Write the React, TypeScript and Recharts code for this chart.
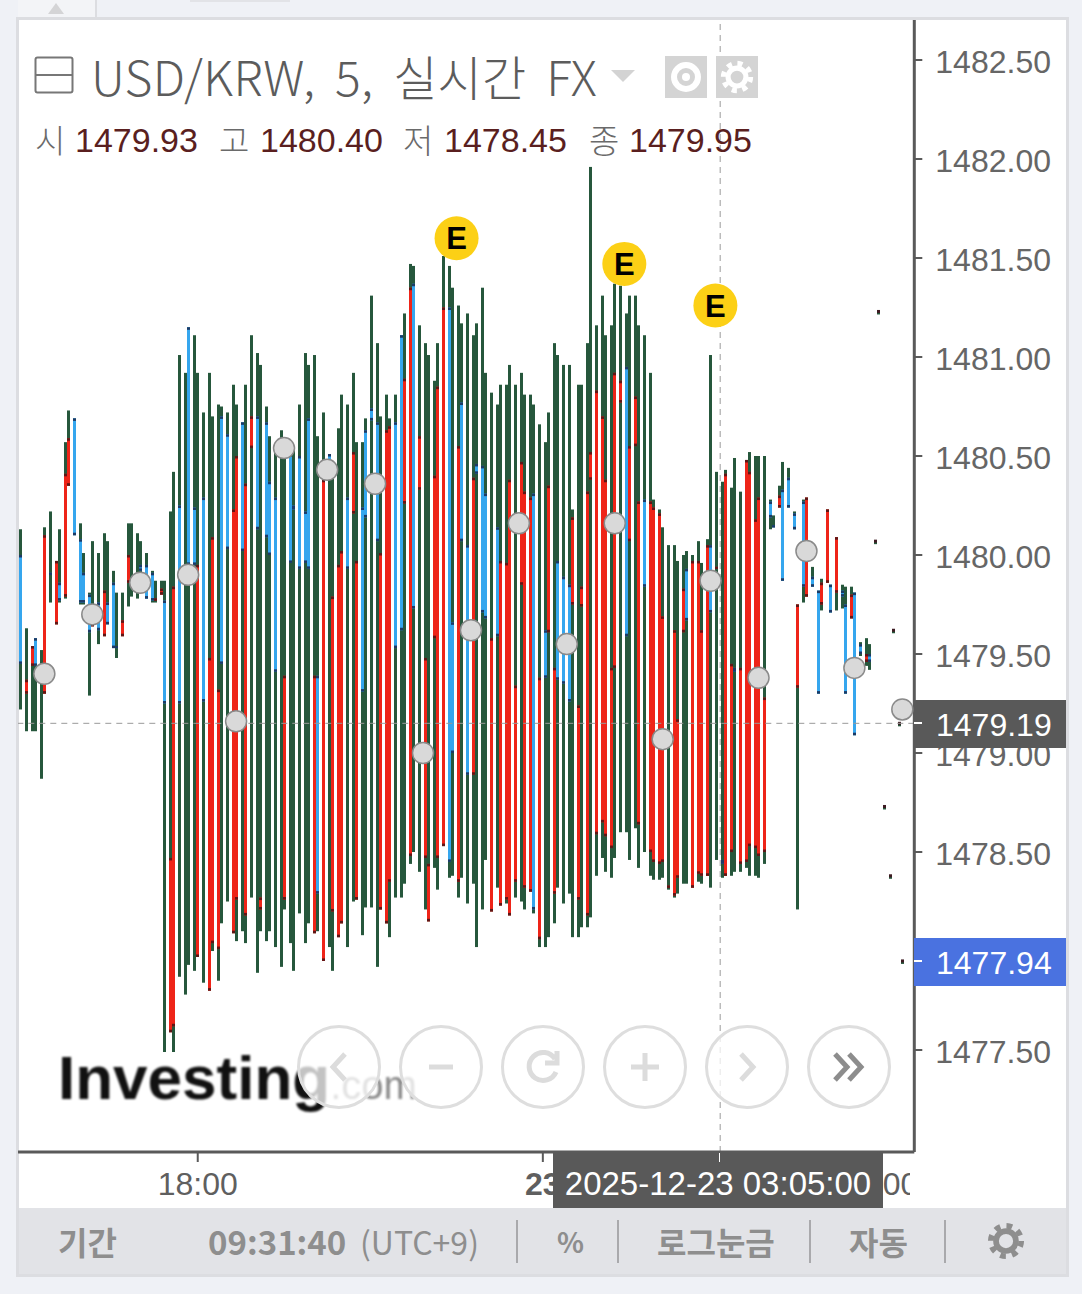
import React from "react";
import { ComposedChart, XAxis, YAxis, Bar, Line, ReferenceLine } from "recharts";

const highs = [
  1480.13,1479.63,1479.54,1479.58,1479.52,1480.14,1480.22,1479.97,1480.13,1480.57,
  1480.73,1480.69,1480.16,1480.01,1479.81,1480.07,1480.01,1480.11,1480.07,1479.92,
  1479.81,1479.81,1480.16,1480.16,1480.11,1480.07,1480.01,1479.92,1479.87,1479.87,
  1479.87,1480.22,1480.42,1481.01,1480.92,1481.15,1481.11,1480.92,1480.72,1480.92,
  1480.70,1480.76,1480.75,1480.72,1480.86,1480.76,1480.67,1480.86,1481.11,1481.02,
  1480.96,1480.75,1480.60,1480.56,1480.63,1480.56,1480.55,1480.55,1480.76,1481.02,
  1480.96,1481.01,1480.60,1480.72,1480.51,1480.39,1480.64,1480.81,1480.76,1480.92,
  1480.57,1480.57,1480.69,1481.31,1481.07,1480.70,1480.81,1480.69,1480.81,1481.11,
  1481.22,1481.47,1481.46,1481.16,1481.07,1481.01,1480.88,1481.07,1481.51,1481.46,
  1481.35,1481.26,1481.17,1481.22,1481.11,1481.17,1481.35,1480.92,1480.82,1480.76,
  1480.86,1480.86,1480.96,1480.86,1480.92,1480.81,1480.81,1480.76,1480.66,1480.57,
  1480.72,1481.07,1481.01,1480.96,1480.96,1480.23,1480.86,1480.86,1481.07,1481.96,
  1481.16,1481.31,1481.11,1481.16,1481.37,1481.36,1481.22,1481.31,1481.31,1481.16,
  1481.11,1480.92,1480.28,1480.23,1480.14,1480.05,1480.05,1479.97,1480.00,1480.02,
  1480.00,1480.07,1479.96,1480.08,1481.01,1480.42,1480.37,1480.43,1480.34,1480.49,
  1480.32,1480.48,1480.52,1480.50,1480.50,1480.50,1480.28,1480.20,1480.35,1480.47,
  1480.44,1480.22,1479.75,1480.28,1480.29,1479.94,1479.82,1479.88,1480.23,1479.85,
  1480.09,1479.85,1479.84,1479.84,1479.81,1479.56,1479.58,1479.55,
  1480.07,1481.23,1478.73,1478.38,1479.62,1479.15,1477.95,
];

const lows = [
  1479.22,1479.11,1479.11,1479.11,1478.87,1479.30,1479.76,1479.65,1479.76,1479.78,
  1480.35,1480.10,1479.75,1479.75,1479.29,1479.64,1479.55,1479.59,1479.65,1479.53,
  1479.48,1479.59,1479.74,1479.79,1479.78,1479.90,1479.78,1479.76,1479.76,1479.80,
  1477.49,1477.59,1477.49,1477.87,1477.78,1477.93,1477.90,1477.97,1477.84,1477.80,
  1478.00,1477.85,1478.14,1478.25,1478.09,1478.05,1478.10,1478.04,1478.27,1477.89,
  1478.10,1478.05,1478.10,1478.02,1477.92,1478.21,1478.04,1477.90,1478.19,1478.04,
  1478.14,1478.09,1478.10,1477.95,1478.02,1477.90,1478.07,1478.14,1478.02,1478.25,
  1478.26,1478.08,1478.22,1478.22,1477.92,1478.21,1478.14,1478.07,1478.27,1478.27,
  1478.34,1478.44,1478.50,1478.40,1478.21,1478.15,1478.42,1478.31,1478.53,1478.37,
  1478.38,1478.27,1478.37,1478.24,1478.34,1478.02,1478.21,1478.46,1478.20,1478.32,
  1478.23,1478.24,1478.18,1478.27,1478.25,1478.21,1478.30,1478.19,1478.02,1478.02,
  1478.07,1478.14,1478.32,1478.24,1478.29,1478.07,1478.07,1478.12,1478.12,1478.17,
  1478.38,1478.47,1478.40,1478.37,1478.47,1478.60,1478.60,1478.46,1478.62,1478.42,
  1478.50,1478.38,1478.36,1478.36,1478.37,1478.31,1478.27,1478.29,1478.34,1478.34,
  1478.32,1478.35,1478.34,1478.38,1478.32,1478.46,1478.37,1478.38,1478.38,1478.40,
  1478.40,1478.42,1478.38,1478.38,1478.37,1478.44,1480.13,1480.14,1480.24,1479.87,
  1480.24,1480.13,1478.21,1479.76,1479.79,1479.84,1479.30,1479.72,1479.86,1479.71,
  1479.72,1479.73,1479.30,1479.68,1479.09,1479.49,1479.44,1479.42,
  1480.07,1481.23,1478.73,1478.38,1479.62,1479.15,1477.95,
];

const opens = [
  1480.00,1479.30,1479.44,1479.58,1479.41,1479.30,1479.91,1479.65,1479.86,1479.79,
  1480.35,1480.69,1480.08,1479.91,1479.80,1479.64,1479.76,1479.59,1479.76,1479.86,
  1479.54,1479.59,1479.86,1479.86,1479.83,1479.95,1479.95,1479.91,1479.77,1479.80,
  1479.77,1477.59,1477.62,1480.25,1479.95,1481.15,1480.24,1477.97,1480.29,1477.80,
  1478.04,1478.01,1480.70,1480.61,1478.09,1478.26,1480.67,1478.18,1480.54,1480.70,
  1478.21,1480.67,1480.37,1480.29,1480.55,1478.26,1480.51,1480.25,1480.50,1480.22,
  1480.69,1478.09,1479.39,1477.95,1480.51,1478.20,1478.07,1478.14,1480.29,1480.21,
  1478.26,1480.24,1480.63,1480.74,1480.67,1478.21,1478.14,1478.35,1480.67,1481.11,
  1480.26,1478.48,1481.37,1480.33,1478.47,1478.15,1479.58,1478.47,1478.53,1481.25,
  1479.66,1478.35,1480.77,1480.05,1478.89,1480.46,1480.45,1480.31,1478.20,1480.14,
  1478.23,1478.26,1478.18,1478.35,1479.85,1478.32,1478.30,1480.31,1478.06,1479.62,
  1479.61,1478.29,1479.97,1479.89,1479.85,1479.75,1478.26,1479.74,1478.18,1480.38,
  1478.59,1478.65,1478.58,1478.52,1479.43,1480.77,1480.95,1480.07,1480.55,1478.64,
  1480.28,1478.50,1478.45,1478.44,1478.45,1478.32,1478.28,1478.37,1479.61,1479.93,
  1478.32,1478.39,1478.38,1478.38,1480.05,1479.93,1478.46,1478.38,1478.50,1479.43,
  1478.44,1478.45,1478.53,1478.52,1478.48,1478.50,1480.27,1480.15,1480.24,1480.33,
  1480.39,1480.21,1479.33,1480.27,1479.79,1479.89,1479.82,1479.75,1479.86,1479.85,
  1479.81,1479.82,1479.75,1479.68,1479.81,1479.55,1479.46,1479.50,
  1480.07,1481.23,1478.73,1478.38,1479.62,1479.15,1477.95,
];

const closes = [
  1479.45,1479.37,1479.54,1479.44,1479.40,1480.10,1479.90,1479.97,1479.77,1480.41,
  1480.59,1480.10,1479.76,1479.76,1479.61,1479.71,1479.62,1479.82,1479.65,1479.53,
  1479.53,1479.67,1480.00,1479.85,1479.82,1479.92,1479.78,1479.77,1479.78,1479.83,
  1479.25,1478.47,1479.84,1479.25,1479.90,1479.95,1479.95,1479.95,1479.26,1479.48,
  1480.09,1479.32,1479.45,1480.03,1480.23,1480.50,1480.02,1480.36,1480.70,1480.13,
  1478.27,1480.09,1480.00,1479.41,1480.53,1479.39,1479.96,1480.23,1479.93,1479.96,
  1479.93,1479.39,1478.29,1480.38,1480.40,1479.79,1479.95,1480.02,1479.93,1480.52,
  1479.97,1479.31,1480.19,1480.68,1480.07,1480.01,1480.63,1480.65,1479.53,1479.62,
  1480.89,1481.35,1479.73,1480.60,1479.48,1478.44,1480.40,1480.85,1481.25,1478.45,
  1479.00,1480.55,1480.07,1478.89,1480.39,1480.41,1479.71,1479.68,1479.58,1479.59,
  1479.97,1479.96,1480.38,1479.34,1480.47,1480.32,1480.29,1478.21,1479.38,1479.38,
  1480.35,1479.43,1479.37,1479.35,1479.26,1480.19,1479.24,1479.84,1480.32,1480.52,
  1480.83,1480.70,1480.38,1479.43,1480.92,1480.88,1479.59,1480.55,1480.80,1480.27,
  1479.84,1480.27,1480.24,1480.21,1479.69,1478.33,1479.62,1479.17,1479.83,1479.67,
  1479.97,1479.97,1479.62,1480.05,1479.71,1479.94,1478.44,1480.41,1479.45,1479.41,
  1479.43,1480.48,1480.42,1480.18,1480.29,1479.28,1480.19,1480.14,1480.30,1479.87,
  1480.24,1480.13,1479.75,1479.84,1480.29,1479.84,1479.30,1479.86,1480.23,1479.71,
  1480.09,1479.79,1479.30,1479.80,1479.09,1479.50,1479.50,1479.46,
  1480.07,1481.23,1478.73,1478.38,1479.62,1479.15,1477.95,
];

// gray event dots and yellow E badges, by bar slot
const eventBars = [5,15,25,35,45,55,64,74,84,94,104,114,124,134,144,154,164,174,184];
const eventPrices = [1479.40,1479.70,1479.86,1479.90,1479.16,1480.54,1480.43,1480.36,1479.00,1479.62,1480.16,1479.55,1480.16,1479.07,1479.87,1479.38,1480.02,1479.43,1479.22];
const earningBars = [91,126,145];
const earningPrices = [1481.60,1481.47,1481.26];

const priceTicks = [1482.5,1482,1481.5,1481,1480.5,1480,1479.5,1479,1478.5,1478,1477.5];
const timeTicks = [37,109,179];
const timeLabels: Record<number,string> = { 37: "18:00", 109: "23", 179: "06:00" };
const SLOTS = 187;

const table = Array.from({ length: SLOTS }, (_, i) => {
  const has = i < highs.length;
  const ev = eventBars.indexOf(i);
  const er = earningBars.indexOf(i);
  return {
    slot: i,
    wick: has ? [lows[i], highs[i]] : null,
    body: has ? [Math.min(opens[i], closes[i]), Math.max(opens[i], closes[i])] : null,
    open: has ? opens[i] : null,
    close: has ? closes[i] : null,
    event: ev >= 0 ? eventPrices[ev] : null,
    earning: er >= 0 ? earningPrices[er] : null,
  };
});

const GREEN = "#26573c";
const RED = "#ee2418";
const BLUE = "#35a6ee";
const SANS = '"Liberation Sans", Arial, sans-serif';
const KR = '"Noto Sans CJK KR", "Liberation Sans", sans-serif';

// the source canvas lands every bar on a 3px column
const snap = (x: number) => Math.ceil((x - 19.4) / 3) * 3 + 19;

const Wick = (p: any) => {
  if (!p.payload?.wick) return null;
  const h = Math.abs(p.height);
  return <rect x={snap(p.x)} y={Math.min(p.y, p.y + p.height)} width={3} height={Math.max(h, 3)} fill={GREEN} />;
};

const Body = (p: any) => {
  if (!p.payload?.body) return null;
  const top = Math.min(p.y, p.y + p.height);
  const h = Math.abs(p.height);
  const x = snap(p.x);
  const { open, close } = p.payload;
  if (open === close) return <rect x={x} y={top - 1.5} width={3} height={3} fill="#3d1b22" />;
  const up = close > open;
  const cap = up ? "#5f1616" : "#1c3a66";
  return (
    <g>
      <rect x={x} y={top} width={3} height={h} fill={up ? RED : BLUE} />
      <rect x={x} y={top} width={3} height={Math.min(2.5, h)} fill={cap} />
      <rect x={x} y={top + h - Math.min(2.5, h)} width={3} height={Math.min(2.5, h)} fill={cap} />
    </g>
  );
};

const EventDot = (p: any) => {
  if (p.payload?.event == null) return <g key={p.index} />;
  return <circle key={p.index} cx={p.cx} cy={p.cy} r={10.5} fill="#d9d9d9" stroke="#8a8a8a" strokeWidth={1.5} />;
};

const EarningDot = (p: any) => {
  if (p.payload?.earning == null) return <g key={p.index} />;
  return (
    <g key={p.index}>
      <circle cx={p.cx} cy={p.cy} r={22} fill="#fcd016" />
      <text x={p.cx} y={p.cy + 11} textAnchor="middle" fontFamily={SANS} fontWeight="bold" fontSize={31} fill="#000">E</text>
    </g>
  );
};

const TimeTick = (p: any) => {
  const label = timeLabels[p.payload.value];
  return (
    <text x={p.x} y={p.y + 33} textAnchor="middle" fontFamily={SANS} fontSize={32}
      fontWeight={label === "23" ? "bold" : "normal"} fill="#5f5f5f">{label}</text>
  );
};

const Gear = ({ size, color }: { size: number; color: string }) => (
  <svg width={size} height={size} viewBox="0 0 40 40" style={{ display: "block" }}>
    <circle cx="20" cy="20" r="16" fill="none" stroke={color} strokeWidth="6" strokeDasharray="6 6.57" />
    <circle cx="20" cy="20" r="10.5" fill="none" stroke={color} strokeWidth="6" />
  </svg>
);

const abs = (left: number, top: number, extra: React.CSSProperties = {}): React.CSSProperties => ({
  position: "absolute", left, top, ...extra,
});

const ohlc = [
  { k: "시", kx: 35, v: "1479.93", vx: 75 },
  { k: "고", kx: 219, v: "1480.40", vx: 260 },
  { k: "저", kx: 403, v: "1478.45", vx: 444 },
  { k: "종", kx: 589, v: "1479.95", vx: 629 },
];

const toolbar = [
  { t: "기간", x: 58, size: 32 },
  { t: "09:31:40", x: 208, size: 33 },
  { t: "(UTC+9)", x: 360, size: 32, light: true },
  { t: "%", x: 557, size: 28 },
  { t: "로그눈금", x: 657, size: 32 },
  { t: "자동", x: 849, size: 32 },
];
const toolbarSeps = [516, 617, 809, 944];

const navX = [339, 441, 543, 645, 747, 849];

const NavGlyph = ({ i, x }: { i: number; x: number }) => {
  const c = "#dcdcdc";
  const y = 1067;
  const line = { fill: "none", stroke: c, strokeWidth: 5 } as const;
  if (i === 0) return <path d={`M${x + 6} ${y - 13}L${x - 6} ${y}L${x + 6} ${y + 13}`} {...line} />;
  if (i === 1) return <path d={`M${x - 12} ${y}H${x + 12}`} {...line} />;
  if (i === 2) return <path d={`M${x + 12} ${y - 8}A14 14 0 1 0 ${x + 13} ${y + 5}M${x + 14} ${y - 16}V${y - 4}H${x + 2}`} {...line} />;
  if (i === 3) return <path d={`M${x - 14} ${y}H${x + 14}M${x} ${y - 14}V${y + 14}`} {...line} />;
  if (i === 4) return <path d={`M${x - 6} ${y - 13}L${x + 6} ${y}L${x - 6} ${y + 13}`} {...line} />;
  return <path d={`M${x - 14} ${y - 13}L${x - 2} ${y}L${x - 14} ${y + 13}M${x} ${y - 13}L${x + 12} ${y}L${x} ${y + 13}`} fill="none" stroke="#8d8d8d" strokeWidth={5} />;
};

export default function App() {
  return (
    <div style={abs(0, 0, { width: 1082, height: 1294, background: "#eff1f6", overflow: "hidden" })}>
      {/* top strip */}
      <div style={abs(18, 0, { width: 77, height: 17, background: "#f3f4f7", borderRight: "2px solid #dcdde1" })} />
      <div style={abs(190, 0, { width: 100, height: 2, background: "#e2e3e7" })} />
      <svg style={abs(48, 3)} width="16" height="11"><path d="M8 0L16 11H0Z" fill="#d4d4d6" /></svg>

      {/* panel */}
      <div style={abs(16, 17, { width: 1053, height: 1260, background: "#dcdde1" })} />
      <div style={abs(19, 20, { width: 1047, height: 1188, background: "#fff" })} />
      <div style={abs(19, 1208, { width: 1047, height: 66, background: "#e2e3e7" })} />

      <div style={abs(0, 0)}>
        <ComposedChart width={1082} height={1294} data={table}
          margin={{ top: 20, left: 18, right: 16, bottom: 86 }}>
          <XAxis xAxisId="wick" dataKey="slot" type="category" ticks={timeTicks} interval={0}
            tick={<TimeTick />} tickSize={10} tickMargin={0} height={56}
            axisLine={{ stroke: "#5a5a5a", strokeWidth: 3 }} tickLine={{ stroke: "#5a5a5a", strokeWidth: 2 }} />
          <XAxis xAxisId="body" dataKey="slot" type="category" hide height={0} />
          <YAxis orientation="right" width={151.7} domain={[1476.985, 1482.702]} allowDataOverflow
            ticks={priceTicks} interval={0} tickFormatter={(v: number) => v.toFixed(2)}
            tick={{ fill: "#666", fontSize: 32, fontFamily: SANS, dy: 2 }} tickSize={8} tickMargin={13}
            axisLine={{ stroke: "#5a5a5a", strokeWidth: 3 }} tickLine={{ stroke: "#5a5a5a", strokeWidth: 2 }} />
          <Bar xAxisId="wick" dataKey="wick" barSize={3} shape={<Wick />} isAnimationActive={false} />
          <Bar xAxisId="body" dataKey="body" barSize={3} shape={<Body />} isAnimationActive={false} />
          <ReferenceLine xAxisId="wick" y={1479.15} stroke="#9a9a9a" strokeDasharray="6 5" />
          <ReferenceLine xAxisId="wick" x={146} stroke="#9a9a9a" strokeDasharray="6 5" />
          <Line xAxisId="wick" dataKey="event" stroke="none" connectNulls={false} dot={<EventDot />} activeDot={false} isAnimationActive={false} />
          <Line xAxisId="wick" dataKey="earning" stroke="none" connectNulls={false} dot={<EarningDot />} activeDot={false} isAnimationActive={false} />
        </ComposedChart>
      </div>

      {/* watermark and nav buttons */}
      <div style={abs(58, 1043, { fontFamily: SANS, fontWeight: "bold", fontSize: 62, color: "#111", filter: "blur(1px)", whiteSpace: "nowrap", lineHeight: "70px" })}>
        Investing<span style={{ fontWeight: "normal", fontSize: 40, color: "#8a8a8a" }}>.com</span>
      </div>
      <svg style={abs(0, 0, { pointerEvents: "none" })} width={1082} height={1294}>
        {navX.map((x, i) => (
          <g key={x}>
            <circle cx={x} cy={1067} r={40.5} fill="#fff" fillOpacity={0.75} stroke="#dedede" strokeWidth={3} />
            <NavGlyph i={i} x={x} />
          </g>
        ))}
      </svg>

      {/* header */}
      <svg style={abs(34, 56)} width="40" height="38">
        <rect x="1.5" y="1.5" width="37" height="35" rx="2" fill="none" stroke="#777" strokeWidth="2" />
        <path d="M1.5 19H38.5" stroke="#777" strokeWidth="2" />
      </svg>
      <div style={abs(91, 43, { fontFamily: KR, fontSize: 48, fontWeight: 300, wordSpacing: 9, letterSpacing: 0.25, lineHeight: "64px", color: "#5c5c5c", whiteSpace: "nowrap" })}>
        USD/KRW, 5, 실시간 FX
      </div>
      <svg style={abs(611, 70)} width="24" height="12"><path d="M0 0H24L12 12Z" fill="#d3d3d3" /></svg>
      <div style={abs(665, 56, { width: 42, height: 42, background: "#d4d4d4" })}>
        <svg width="42" height="42"><circle cx="21" cy="21" r="12" fill="none" stroke="#fff" strokeWidth="6" /><circle cx="21" cy="21" r="4" fill="#fff" /></svg>
      </div>
      <div style={abs(716, 56, { width: 42, height: 42, background: "#d4d4d4", display: "flex", alignItems: "center", justifyContent: "center" })}>
        <Gear size={34} color="#fff" />
      </div>
      {ohlc.map((o) => (
        <React.Fragment key={o.k}>
          <div style={abs(o.kx, 117, { fontFamily: KR, fontWeight: 300, fontSize: 33, lineHeight: "44px", color: "#6a6a6a" })}>{o.k}</div>
          <div style={abs(o.vx, 118, { fontFamily: SANS, fontSize: 34, lineHeight: "44px", color: "#5a1f1f" })}>{o.v}</div>
        </React.Fragment>
      ))}

      {/* price tags */}
      <div style={abs(914, 700, { width: 152, height: 48, background: "#595959", color: "#fff", fontFamily: SANS, fontSize: 32, lineHeight: "50px", paddingLeft: 22, boxSizing: "border-box" })}>1479.19</div>
      <div style={abs(914, 722, { width: 8, height: 2, background: "#fff" })} />
      <div style={abs(914, 938, { width: 152, height: 48, background: "#4a72e0", color: "#fff", fontFamily: SANS, fontSize: 32, lineHeight: "50px", paddingLeft: 22, boxSizing: "border-box" })}>1477.94</div>
      <div style={abs(914, 960, { width: 8, height: 2, background: "#fff" })} />

      {/* time tag */}
      <div style={abs(910, 1160, { width: 8, height: 46, background: "#fff" })} />
      <div style={abs(553, 1153, { width: 330, height: 55, background: "#595959", color: "#fff", fontFamily: SANS, fontSize: 33, lineHeight: "62px", textAlign: "center", whiteSpace: "nowrap" })}>2025-12-23 03:05:00</div>
      <div style={abs(719, 1153, { width: 1, height: 9, background: "#fff" })} />

      {/* toolbar */}
      {toolbar.map((t) => (
        <div key={t.t} style={abs(t.x, 1218, { fontFamily: KR, fontSize: t.size, lineHeight: "46px", fontWeight: t.light ? 400 : 700, color: "#8e8e8e", whiteSpace: "nowrap" })}>{t.t}</div>
      ))}
      {toolbarSeps.map((x) => (
        <div key={x} style={abs(x, 1220, { width: 2, height: 43, background: "#a9a9ac" })} />
      ))}
      <div style={abs(987, 1222)}><Gear size={38} color="#8e8e8e" /></div>
    </div>
  );
}
